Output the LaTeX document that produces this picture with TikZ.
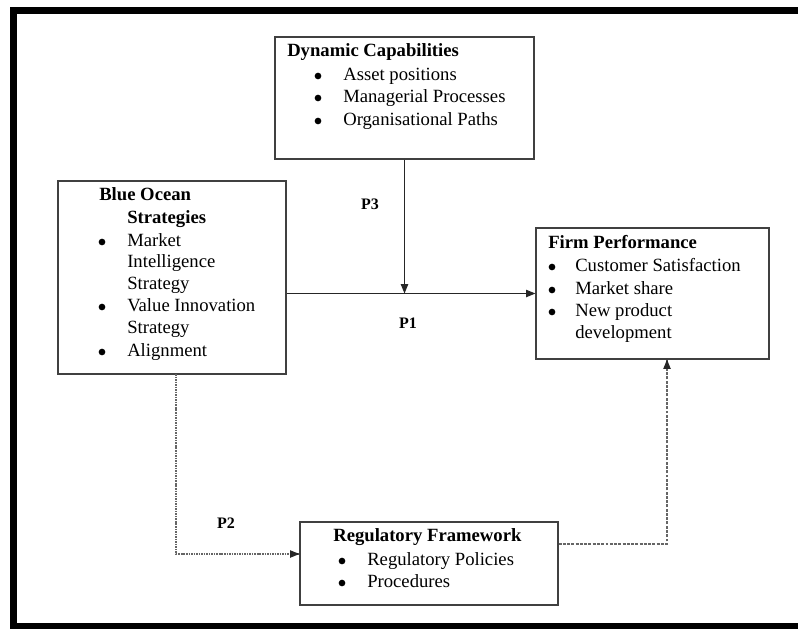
\documentclass[tikz,border=0pt]{standalone}
\usepackage{fontspec}
\setmainfont{Liberation Serif}
\usetikzlibrary{arrows.meta,fit,calc}
\begin{document}
\begin{tikzpicture}[x=0.75pt,y=-0.75pt,
  box/.style={draw=black!75, line width=0.9pt, inner sep=0pt},
  txt/.style={anchor=mid west, inner sep=0pt, font=\fontsize{14}{16}\selectfont},
  ttl/.style={anchor=mid west, inner sep=0pt, font=\fontsize{14}{16}\selectfont\bfseries},
  bul/.style={circle, fill=black, inner sep=0pt, minimum size=5pt},
  plab/.style={anchor=center, inner sep=0pt, font=\fontsize{12}{14}\selectfont\bfseries},
  frame/.style={line width=5.25pt, draw=black},
  link/.style={line width=0.8pt, draw=black!85, -{Triangle[length=7pt,width=5.5pt]}},
  dotlink/.style={line width=0.8pt, draw=black!60, dash pattern=on 1.2pt off 0.7pt},
  dashlink/.style={line width=0.8pt, draw=black!60, dash pattern=on 2.2pt off 1pt}
]
\useasboundingbox (0,0) rectangle (798,628);
\fill[white] (0,0) rectangle (798,628);

% outer frame (left, top, bottom)
\coordinate (fTL) at (13.5,10.5);
\coordinate (fTR) at (800,10.5);
\coordinate (fBL) at (10,626.5);
\coordinate (fBR) at (800,626.5);
\draw[frame] (13.5,632) -- (fTL) -- (fTR);
\draw[frame] (fBL) -- (fBR);

% boxes
\node[box, fit={(275,37) (534,159)}] (dc) {};
\node[box, fit={(58,181) (286,374)}] (bo) {};
\node[box, fit={(536,228) (769,359)}] (fp) {};
\node[box, fit={(300,522) (558,605)}] (rf) {};

% Dynamic Capabilities
\node[ttl] (dct) at (287,53) {Dynamic Capabilities};
\node[bul] (dcb1) at (318,76) {};
\node[bul] (dcb2) at (318,98) {};
\node[bul] (dcb3) at (318,121) {};
\node[txt] (dc1) at (343,77) {Asset positions};
\node[txt] (dc2) at (343,99) {Managerial Processes};
\node[txt] (dc3) at (343,122) {Organisational Paths};

% Blue Ocean Strategies
\node[ttl] (bot1) at (99,197) {Blue Ocean};
\node[ttl] (bot2) at (127,220) {Strategies};
\node[bul] (bob1) at (102,242) {};
\node[bul] (bob2) at (102,307) {};
\node[bul] (bob3) at (102,352) {};
\node[txt] (bo1) at (127,243) {Market};
\node[txt] (bo2) at (127,264) {Intelligence};
\node[txt] (bo3) at (127,286) {Strategy};
\node[txt] (bo4) at (127,308) {Value Innovation};
\node[txt] (bo5) at (127,330) {Strategy};
\node[txt] (bo6) at (127,353) {Alignment};

% Firm Performance
\node[ttl] (fpt) at (548,245) {Firm Performance};
\node[bul] (fpb1) at (552,267) {};
\node[bul] (fpb2) at (552,290) {};
\node[bul] (fpb3) at (552,312) {};
\node[txt] (fp1) at (575,268) {Customer Satisfaction};
\node[txt] (fp2) at (575,291) {Market share};
\node[txt] (fp3) at (575,313) {New product};
\node[txt] (fp4) at (575,335) {development};

% Regulatory Framework
\node[ttl] (rft) at (333,538) {Regulatory Framework};
\node[bul] (rfb1) at (342,561) {};
\node[bul] (rfb2) at (342,583) {};
\node[txt] (rf1) at (367,562) {Regulatory Policies};
\node[txt] (rf2) at (367,584) {Procedures};

% P labels
\node[plab] (p3) at (370,204) {P3};
\node[plab] (p1) at (408,323) {P1};
\node[plab] (p2) at (226,523) {P2};

% connectors
\coordinate (h0) at (bo.east |- fp.west);
\coordinate (hm) at (dc.south |- fp.west);
\draw[link] (h0) -- (fp.west);
\draw[link] (dc.south) -- (hm);

\coordinate (bobot) at (176,374);
\coordinate (bocorner) at (176,554);
\coordinate (rfin) at (rf.west |- bocorner);
\draw[dotlink] (bobot) -- (bocorner) -- (rfin);
\draw[link] ($(rfin)+(-1,0)$) -- (rfin);

\coordinate (rfout) at (rf.east |- 0,544);
\coordinate (fpcorner) at (667,544);
\coordinate (fpin) at (fp.south -| fpcorner);
\draw[dashlink] (rfout) -- (fpcorner) -- (fpin);
\draw[link] ($(fpin)+(0,1)$) -- (fpin);
\end{tikzpicture}
\end{document}
